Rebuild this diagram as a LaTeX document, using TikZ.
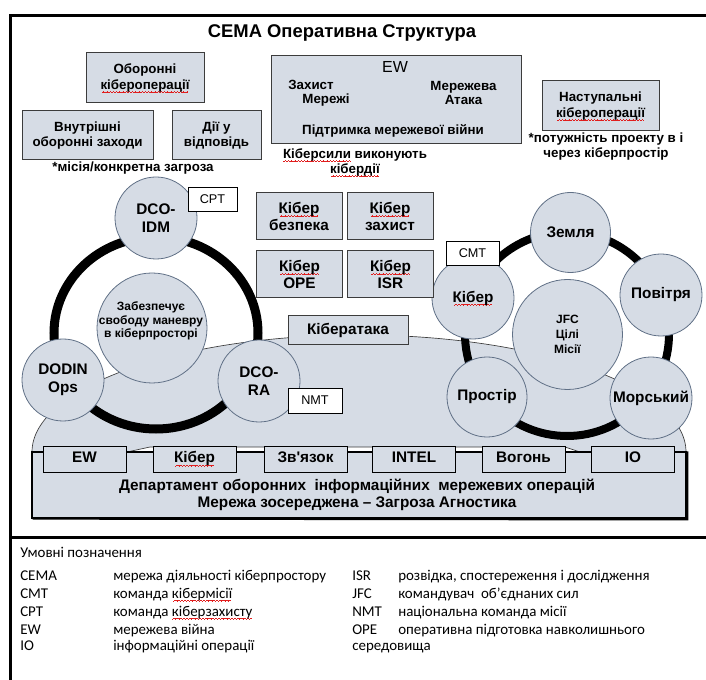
\documentclass[tikz,border=0pt]{standalone}
\usepackage{fontspec}
\setmainfont{Liberation Sans}
\newfontfamily\legendfont{Carlito}

\definecolor{panel}{RGB}{214,220,229}
\definecolor{edge}{RGB}{60,60,60}
\definecolor{discedge}{RGB}{96,112,134}
\definecolor{spell}{RGB}{225,30,30}

% red wavy underline under words flagged by the spell checker
\newcommand\wavebit{\hbox{{\color{spell}%
  \rule[-2.7pt]{0.6pt}{0.5pt}\rule[-2.3pt]{0.6pt}{0.5pt}%
  \rule[-1.9pt]{0.6pt}{0.5pt}\rule[-2.3pt]{0.6pt}{0.5pt}}}}
\newsavebox\sqbox
\newcommand\sq[1]{\sbox\sqbox{#1}%
  \rlap{\smash{\hbox to\wd\sqbox{\cleaders\wavebit\hfil}}}\usebox\sqbox}

\begin{document}
\begin{tikzpicture}[x=0.75pt,y=-0.75pt,
  panelbox/.style={draw=edge,fill=panel,line width=0.75pt,inner sep=0pt,align=center,
    font=\bfseries\fontsize{10}{11.5}\selectfont},
  sz/.style 2 args={minimum width=#1*0.75pt,minimum height=#2*0.75pt},
  cyberbox/.style={panelbox,minimum width=86*0.75pt,minimum height=47*0.75pt,
    font=\bfseries\fontsize{11.5}{12.75}\selectfont},
  discnode/.style={circle,draw=discedge,fill=panel,line width=0.6pt,inner sep=0pt,
    align=center,minimum size=#1*0.75pt,font=\bfseries\fontsize{11.5}{13.5}\selectfont},
  tagbox/.style={draw=black,fill=white,line width=0.6pt,inner sep=0pt,
    font=\fontsize{9.5}{11}\selectfont},
  ringline/.style={draw=black,line width=6.75pt},
  notetext/.style={inner sep=0pt,align=center,font=\bfseries\fontsize{10}{11.25}\selectfont},
  unitbox/.style={draw=black,fill=panel,line width=0.75pt,inner sep=0pt,
    text height=8.3pt,text depth=2.4pt,
    minimum width=83*0.75pt,minimum height=26*0.75pt,font=\bfseries\fontsize{11.5}{13}\selectfont},
  legendtext/.style={anchor=base west,inner sep=0pt,font=\legendfont\fontsize{11.2}{13}\selectfont},
  frameline/.style={line width=2.25pt,black},
]
\useasboundingbox (0,0) rectangle (706,680);

% outer frame and legend divider
\draw[frameline] (10.5,680) -- (10.5,15.5) -- (706,15.5);
\draw[frameline] (9.5,537) -- (706,537);

% title
\node[inner sep=0pt,font=\bfseries\fontsize{13.8}{16}\selectfont] (title) at (342,33) {СЕМА Оперативна Структура};

% dome of the DODIN department
\path[fill=panel,draw=edge,line width=0.5pt]
  (32,452) arc[start angle=180,end angle=360,x radius=327,y radius=117]
  -- (580,452) -- (565,447) -- (150,447) -- (127,452) -- cycle;
\node[draw=black,fill=panel,line width=0.9pt,inner sep=0pt,sz={654}{66}] (dept) at (359,485) {};
\draw[line width=1.6pt] ([xshift=1pt]dept.south west) -- ([xshift=0.6pt,yshift=-0.6pt]dept.south east) -- ([xshift=0.6pt]dept.north east);
\node[inner sep=0pt,align=center,font=\bfseries\fontsize{11.5}{12.75}\selectfont] (depttext) at (357,494.5)
  {Департамент оборонних\ \ інформаційних\ \ мережевих операцій\\Мережа зосереджена – Загроза Агностика};

% rings
\draw[ringline] (156,333) ellipse[x radius=102,y radius=96];
\draw[ringline,line width=6pt] (567,334) circle[radius=102];

% defensive cyber operations circle
\node[discnode=82] (idm) at (156,218) {DCO-\\IDM};
\node[discnode=110] (free) at (152,328) {};
\node[inner sep=0pt,align=center,font=\bfseries\fontsize{9}{10.2}\selectfont] (freetext) at (151,321)
  {Забезпечує\\свободу маневру\\в кіберпросторі};
\node[discnode=82] (dodin) at (63,380) {DODIN\\Ops};
\node[discnode=82] (dcora) at (259,381) {DCO-\\RA};

% joint force circle
\node[discnode=110,font=\bfseries\fontsize{9}{11.2}\selectfont] (jfc) at (567.5,334.5) {JFC\\Цілі\\Місії};
\node[discnode=80] (land) at (570.5,232.5) {Земля};
\node[discnode=82] (air) at (661,295) {Повітря};
\node[discnode=82] (sea) at (651,398) {Морський};
\node[discnode=80] (space) at (487,397) {Простір};
\node[discnode=82] (cyb) at (473,298) {\sq{Кібер}};

% team tags
\node[tagbox,sz={49}{24}] (cpt) at (212.5,199) {CPT};
\node[tagbox,sz={53}{24}] (cmt) at (472.5,253) {CMT};
\node[tagbox,sz={54}{25}] (nmt) at (315,400.5) {NMT};

% operations boxes
\node[panelbox,sz={118}{50}] (defops) at (145,78) {Оборонні\\\sq{кібероперації}};
\node[panelbox,sz={131}{49}] (inner) at (87.5,135.5) {Внутрішні\\оборонні заходи};
\node[panelbox,sz={89}{49}] (resp) at (216.5,135.5) {Дії у\\відповідь};
\node[notetext] (mission) at (133,168) {*місія/конкретна загроза};

\node[panelbox,sz={250}{88}] (ew) at (396,100) {};
\node[inner sep=0pt,font=\fontsize{12}{14}\selectfont] (ewtitle) at (395,67) {EW};
\node[notetext,font=\bfseries\fontsize{10}{10.5}\selectfont] (ewprot) at (311,93) {Захист\\\hspace*{22.5pt}Мережі};
\node[notetext,font=\bfseries\fontsize{10}{10.5}\selectfont] (ewatk) at (463.5,93) {Мережева\\Атака};
\node[notetext] (ewsup) at (393,131) {Підтримка мережевої війни};
\node[notetext] (forces) at (355,162.5) {\sq{Кіберсили} виконують\\\sq{кібердії}};

\node[panelbox,sz={117}{50}] (offops) at (600.5,106) {Наступальні\\\sq{кібероперації}};
\node[notetext] (power) at (606,146.5) {*потужність проекту в і\\через кіберпростір};

\node[cyberbox] (csec) at (299,216.5) {\sq{Кібер}\\безпека};
\node[cyberbox] (cdef) at (390,216.5) {\sq{Кібер}\\захист};
\node[cyberbox] (cope) at (299.5,274.5) {\sq{Кібер}\\OPE};
\node[cyberbox] (cisr) at (390.5,274.5) {\sq{Кібер}\\ISR};
\node[panelbox,sz={120}{29},font=\bfseries\fontsize{11.5}{13}\selectfont] (attack) at (348,330.5) {Кібератака};

% functional row of the department
\node[unitbox] (u1) at (84.5,459) {EW};
\node[unitbox] (u2) at (194.5,459) {\sq{Кібер}};
\node[unitbox] (u3) at (305.5,459) {Зв\textquotesingle язок};
\node[unitbox] (u4) at (414,459) {INTEL};
\node[unitbox] (u5) at (523.5,459) {Вогонь};
\node[unitbox] (u6) at (633,459) {IO};

% legend
\node[legendtext] (lg0) at (20,557) {Умовні позначення};
\node[legendtext] (lg1a) at (20,580) {СЕМА};
\node[legendtext] (lg1b) at (113,580) {мережа діяльності кіберпростору};
\node[legendtext] (lg1c) at (352,580) {ISR};
\node[legendtext] (lg1d) at (398,580) {розвідка, спостереження і дослідження};
\node[legendtext] (lg2a) at (20,598) {CMT};
\node[legendtext] (lg2b) at (113,598) {команда \sq{кібермісії}};
\node[legendtext] (lg2c) at (352,598) {JFC};
\node[legendtext] (lg2d) at (398,598) {командувач\ \ об’єднаних сил};
\node[legendtext] (lg3a) at (20,616) {CPT};
\node[legendtext] (lg3b) at (113,616) {команда \sq{кіберзахисту}};
\node[legendtext] (lg3c) at (352,616) {NMT};
\node[legendtext] (lg3d) at (398,616) {національна команда місії};
\node[legendtext] (lg4a) at (20,634) {EW};
\node[legendtext] (lg4b) at (113,634) {мережева війна};
\node[legendtext] (lg4c) at (352,634) {OPE};
\node[legendtext] (lg4d) at (398,634) {оперативна підготовка навколишнього};
\node[legendtext] (lg5a) at (20,650) {IO};
\node[legendtext] (lg5b) at (113,650) {інформаційні операції};
\node[legendtext] (lg5c) at (352,650) {середовища};
\end{tikzpicture}
\end{document}
